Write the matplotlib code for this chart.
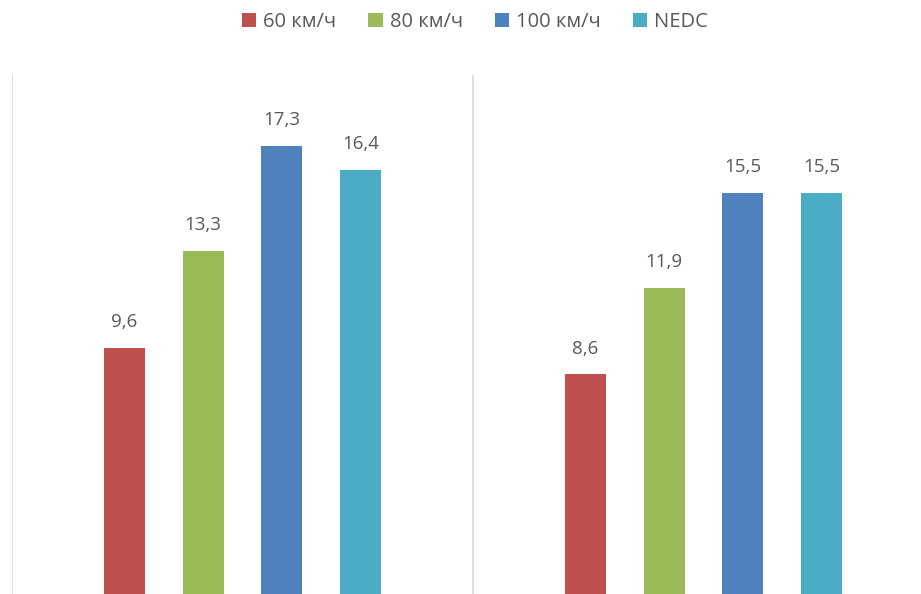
import matplotlib
matplotlib.use("Agg")
import matplotlib.pyplot as plt
import numpy as np

categories = ["Группа 1", "Группа 2"]
series_names = ["60 км/ч", "80 км/ч", "100 км/ч", "NEDC"]
v60 = [9.6, 8.6]
v80 = [13.3, 11.9]
v100 = [17.3, 15.5]
vnedc = [16.4, 15.5]
colors = ["#C0504D", "#9BBB59", "#4F81BD", "#4BACC6"]

plt.rcParams['font.family'] = ['Open Sans', 'DejaVu Sans']

fig = plt.figure(figsize=(9.21, 5.94), dpi=100)
W, H = 921, 594
left, right, top, bottom = 12, 934, 75, 600
ax = fig.add_axes([left / W, 1 - bottom / H, (right - left) / W, (bottom - top) / H])

x = np.arange(len(categories))
width = 0.089
step = 0.1707
all_vals = [v60, v80, v100, vnedc]
handles = []
for i, (vals, name, c) in enumerate(zip(all_vals, series_names, colors)):
    off = (i - 1.5) * step
    b = ax.bar(x + off, vals, width, color=c, label=name, zorder=3)
    handles.append(b)
    for xi, v in zip(x + off, vals):
        ax.annotate(f"{v:.1f}".replace(".", ","), (xi, v), xytext=(0, 12),
                    textcoords="offset points", ha="center", va="bottom",
                    fontsize=13.5, color="#595959")

ax.set_xlim(-0.5, 1.5)
ax.set_ylim(0, 20)
for xv in [-0.5, 0.5, 1.5]:
    ax.axvline(xv, color="#D9D9D9", lw=1.2, zorder=1)
for s in ax.spines.values():
    s.set_visible(False)
ax.set_xticks([])
ax.set_yticks([])

leg = fig.legend(handles=handles, labels=series_names, loc="center",
                 bbox_to_anchor=(475 / W, 1 - 22 / H), ncol=4, frameon=False,
                 fontsize=14.5, handlelength=0.7, handleheight=0.7,
                 handletextpad=0.35, columnspacing=1.6)
for t in leg.get_texts():
    t.set_color("#595959")

fig.savefig("out.png", dpi=100)
